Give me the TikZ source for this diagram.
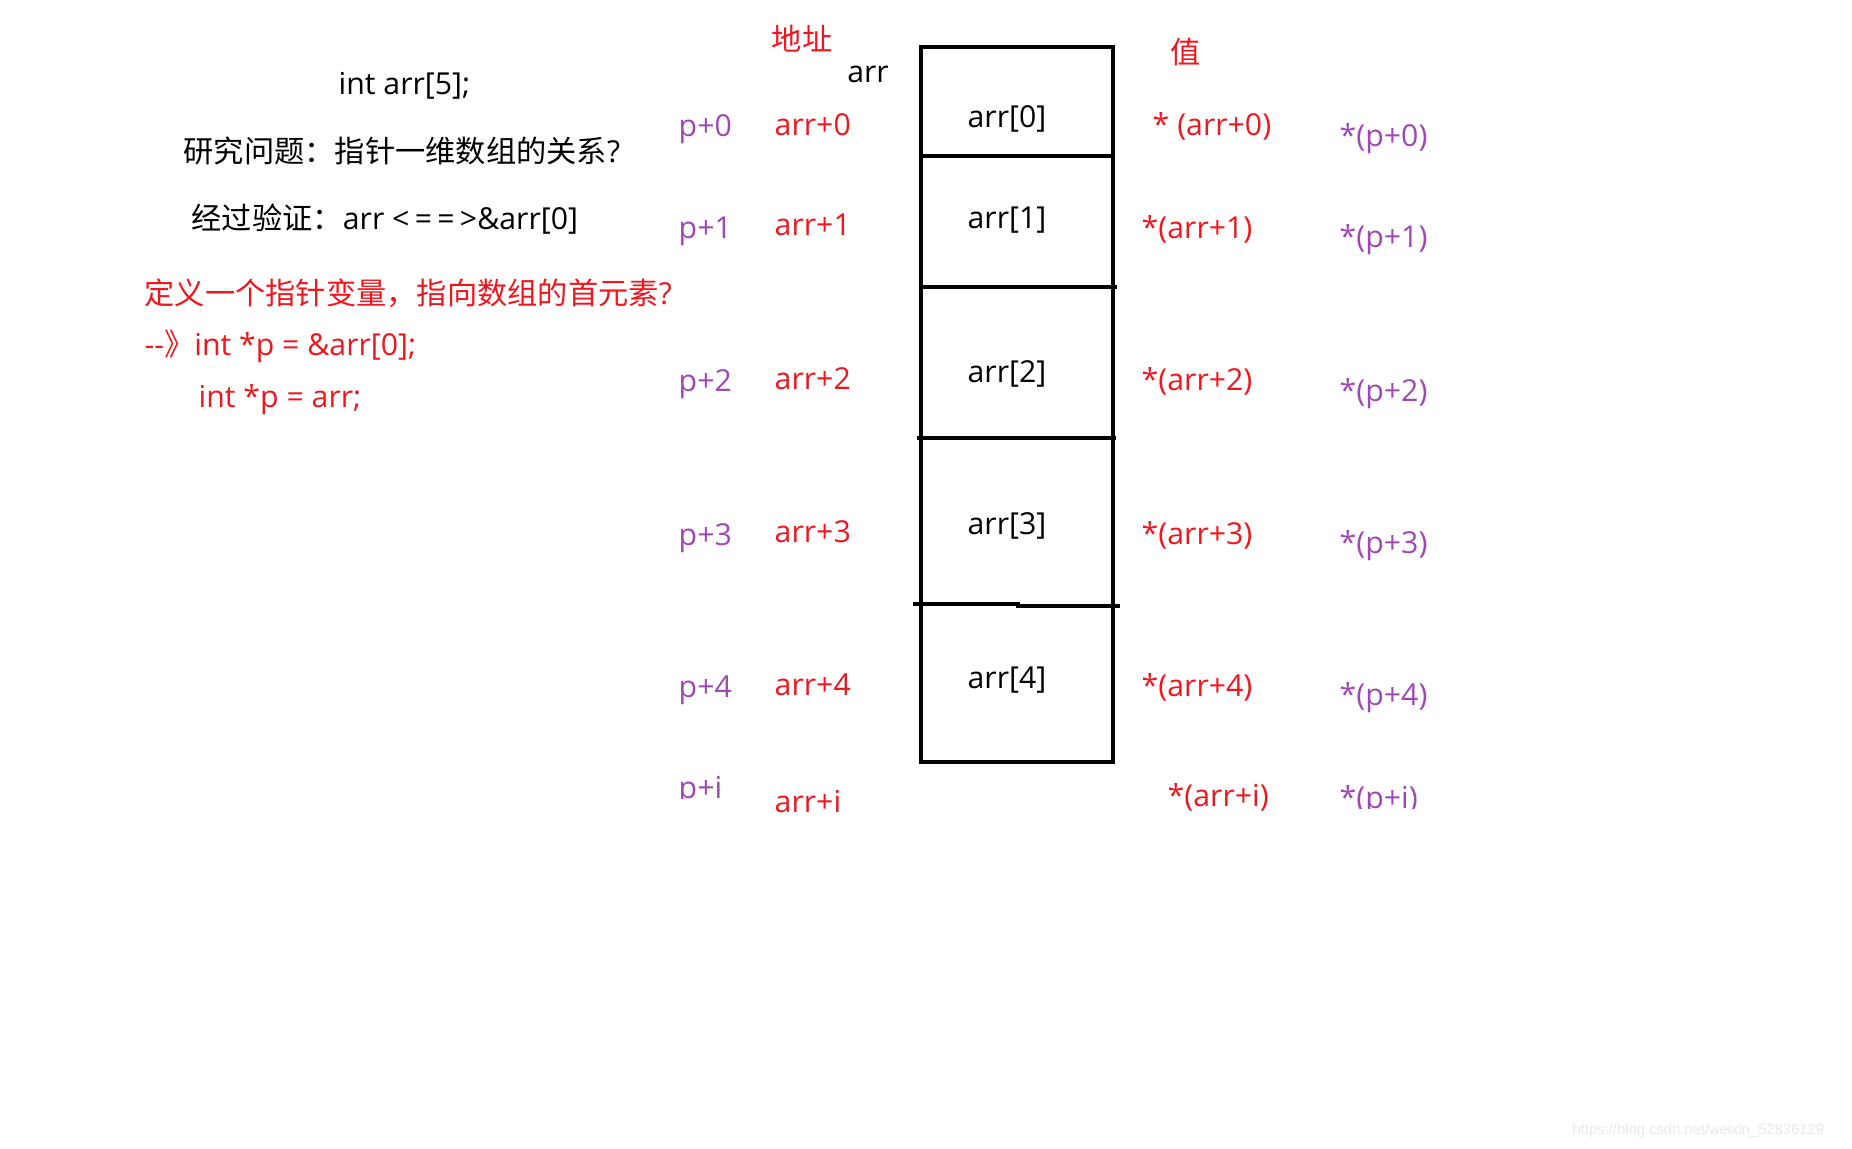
\documentclass[tikz,border=0pt]{standalone}
\usepackage{fontspec}
\setmainfont{Open Sans}
\newfontfamily\cjk{Noto Sans CJK SC}
\newfontfamily\markfont{Liberation Sans}
\usepackage{tikz}
\usetikzlibrary{calc}
\usepackage{xcolor}
\definecolor{addrred}{RGB}{240,22,30}
\definecolor{ptrpurple}{RGB}{158,72,180}

\begin{document}
\begin{tikzpicture}[x=0.01cm,y=-0.01cm,
    txt/.style={inner sep=0pt,font=\fontsize{8.6}{10}\selectfont,text height=0.85em,text depth=0.2em},
    lbl/.style={txt,anchor=west},
    red lbl/.style={lbl,text=addrred},
    ptr lbl/.style={lbl,text=ptrpurple},
    cell/.style={txt,anchor=center},
    wall/.style={line width=1.3pt}]
  \useasboundingbox (0,0) rectangle (1852,1148);

  % Left notes
  \node[lbl] (decl) at (338,83) {int arr[5];};
  \node[lbl] (quest) at (183,151) {\cjk 研究问题：指针一维数组的关系\normalfont?};
  \node[lbl] (check) at (191,218) {{\cjk 经过验证：}arr <\kern1.5pt=\kern1.5pt=\kern1.5pt>\&arr[0]};
  \node[red lbl] (define) at (144,293) {\cjk 定义一个指针变量，指向数组的首元素\normalfont?};
  \node[red lbl] (pdef) at (144,344) {{-}{-}{\cjk 》}int *p = \&arr[0];};
  \node[red lbl] (palt) at (198,396) {int *p = arr;};

  % Headers
  \node[cell,text=addrred,font=\cjk\fontsize{8.6}{10}\selectfont] (addr) at (802,39) {地址};
  \node[cell] (arrname) at (868,71) {arr};
  \node[cell,text=addrred,font=\cjk\fontsize{8.6}{10}\selectfont] (val) at (1186,52) {值};

  % The array block
  \draw[wall] (921,47) rectangle (1113,762);
  \draw[wall] (921,156) -- (1113,156);
  \draw[wall] (921,287) -- (1117,287);
  \draw[wall] (917,438) -- (1116,438);
  \draw[wall] (913,604) -- (1018,604) -- (1018,606) -- (1120,606);

  % Rows: pointer, address, element, value by arr, value by p
  \node[ptr lbl] (p0) at (678,125) {p+0};
  \node[red lbl] (a0) at (774,124) {arr+0};
  \node[cell] (e0) at (1007,116) {arr[0]};
  \node[red lbl] (v0) at (1152,124) {* (arr+0)};
  \node[ptr lbl] (q0) at (1339,135) {*(p+0)};
  \foreach \k/\py/\ay/\ey/\vy/\qy in {1/227/224/217/227/236,2/380/378/371/379/390,
                                      3/534/531/523/533/542,4/686/684/677/685/694}{
    \node[ptr lbl] (p\k) at (678,\py) {p+\k};
    \node[red lbl] (a\k) at (774,\ay) {arr+\k};
    \node[cell] (e\k) at (1007,\ey) {arr[\k]};
    \node[red lbl] (v\k) at (1141,\vy) {*(arr+\k)};
    \node[ptr lbl] (q\k) at (1339,\qy) {*(p+\k)};
  }

  % General row, partly cut off
  \begin{scope}
    \clip (600,700) rectangle (760,798);
    \node[ptr lbl] (pi) at (678,787) {p+i};
  \end{scope}
  \node[red lbl] (ai) at (774,801) {arr+i};
  \node[red lbl] (vi) at (1167,795) {*(arr+i)};
  \begin{scope}
    \clip (1300,700) rectangle (1500,808);
    \node[ptr lbl] (qi) at (1339,797) {*(p+i)};
  \end{scope}

  \node[inner sep=0pt,anchor=west,text=black!9,font=\markfont\fontsize{4.2}{5}\selectfont] (mark) at (1572,1131) {https://blog.csdn.net/weixin\_52836129};
\end{tikzpicture}
\end{document}
